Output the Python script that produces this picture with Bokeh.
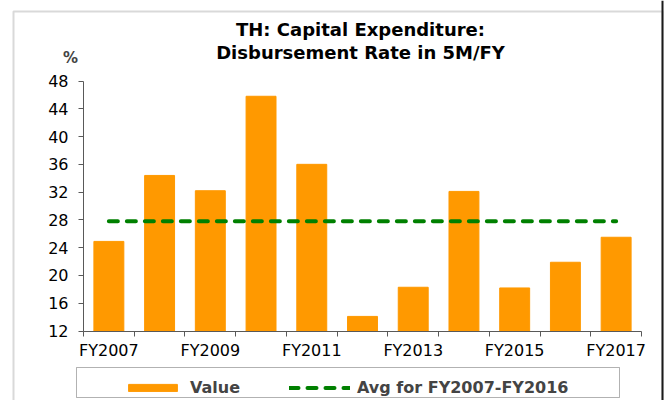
from bokeh.plotting import figure
from bokeh.models import (Range1d, FixedTicker, Legend, LegendItem, Label, BoxAnnotation,
                          LinearAxis, Span)
from bokeh.embed import file_html
from bokeh.resources import INLINE

categories = ["FY2007", "FY2008", "FY2009", "FY2010", "FY2011", "FY2012",
              "FY2013", "FY2014", "FY2015", "FY2016", "FY2017"]
values = [24.9, 34.4, 32.2, 45.8, 36.0, 14.1, 18.3, 32.1, 18.2, 21.9, 25.5]
avg_value = 27.8
series_label = "Value"
avg_label = "Avg for FY2007-FY2016"
y_ticks = [12, 16, 20, 24, 28, 32, 36, 40, 44, 48]
title_lines = ["TH: Capital Expenditure:", "Disbursement Rate in 5M/FY"]
unit_text = "%"

FONT = "DejaVu Sans"
AXIS_COLOR = "#595959"

# canvas layout (pixels)
CANVAS_W, CANVAS_H = 667, 400
PLOT_LEFT, PLOT_RIGHT = 83, 641
PLOT_TOP, PLOT_BOTTOM = 80.5, 330.5

xs = list(range(len(categories)))
x_lo, x_hi = xs[0] - 0.5, xs[-1] + 0.5
kx = (PLOT_RIGHT - PLOT_LEFT) / (x_hi - x_lo)
ky = (PLOT_BOTTOM - PLOT_TOP) / (y_ticks[-1] - y_ticks[0])
x_range = Range1d(x_lo - PLOT_LEFT / kx, x_hi + (CANVAS_W - PLOT_RIGHT) / kx)
y_range = Range1d(y_ticks[0] - (CANVAS_H - PLOT_BOTTOM) / ky, y_ticks[-1] + PLOT_TOP / ky)

p = figure(width=CANVAS_W, height=CANVAS_H, output_backend="svg", toolbar_location=None,
           x_range=x_range, y_range=y_range, x_axis_location=None, y_axis_location=None,
           min_border=0)
p.outline_line_color = None
p.grid.visible = False

bars = p.vbar(x=xs, top=values, bottom=y_ticks[0], width=0.59, color="#FF9900")
avg_line = p.line(x=[xs[0], xs[-1]], y=[avg_value, avg_value], line_color="#008000",
                  line_width=4, line_dash="9 9", line_cap="round")

# x axis pinned at the bottom of the value scale
xaxis = LinearAxis(fixed_location=y_ticks[0], bounds=(x_lo, x_hi),
                   ticker=FixedTicker(ticks=xs[::2],
                                      minor_ticks=[x - 0.5 for x in xs] + [x_hi]))
xaxis.major_label_overrides = {i: categories[i] for i in xs[::2]}
xaxis.major_tick_out = 0
xaxis.major_tick_in = 0
xaxis.minor_tick_out = 5
xaxis.minor_tick_in = 0
xaxis.minor_tick_line_color = AXIS_COLOR
xaxis.major_label_standoff = 5

yaxis = LinearAxis(fixed_location=x_lo, bounds=(y_ticks[0], y_ticks[-1]),
                   ticker=FixedTicker(ticks=y_ticks))
yaxis.major_tick_out = 5
yaxis.major_tick_in = 0
yaxis.minor_tick_line_color = None
yaxis.major_label_standoff = 10

for ax in (xaxis, yaxis):
    ax.axis_line_color = AXIS_COLOR
    ax.major_tick_line_color = AXIS_COLOR
    ax.major_label_text_font = FONT
    ax.major_label_text_font_size = "16px"
    ax.major_label_text_color = "black"
p.add_layout(xaxis, "below")
p.add_layout(yaxis, "left")

# title (two lines) and unit label
for text, y in zip(title_lines, [CANVAS_H - 29, CANVAS_H - 51.5]):
    p.add_layout(Label(x=360, y=y, x_units="screen", y_units="screen", text=text,
                       text_align="center", text_baseline="middle", text_font=FONT,
                       text_font_size="18px", text_font_style="bold", text_color="black"))
p.add_layout(Label(x=70, y=CANVAS_H - 57.5, x_units="screen", y_units="screen",
                   text=unit_text, text_align="center", text_baseline="middle",
                   text_font=FONT, text_font_size="15px", text_font_style="bold"))

# legend
legend = Legend(items=[LegendItem(label=series_label, renderers=[bars]),
                       LegendItem(label=avg_label, renderers=[avg_line])],
                orientation="horizontal", location=(122, 3), padding=5, spacing=49,
                glyph_width=61, glyph_height=9, label_height=20, label_standoff=7,
                border_line_color=None, background_fill_alpha=0,
                label_text_font=FONT, label_text_font_style="bold",
                label_text_font_size="16px")
p.add_layout(legend)
p.add_layout(BoxAnnotation(left=76, right=619, top=33, bottom=3,
                           left_units="screen", right_units="screen",
                           top_units="screen", bottom_units="screen",
                           fill_alpha=0, line_color="black", line_width=1))

# outer chart border
p.add_layout(BoxAnnotation(left=13, right=662, top=CANVAS_H - 11, bottom=-10,
                           left_units="screen", right_units="screen",
                           top_units="screen", bottom_units="screen",
                           fill_alpha=0, line_color="#808080", line_width=2))
p.add_layout(Span(location=662, location_units="screen", dimension="height",
                  line_color="#1a1a1a", line_width=2))

open("out.html", "w").write(file_html(p, INLINE))
